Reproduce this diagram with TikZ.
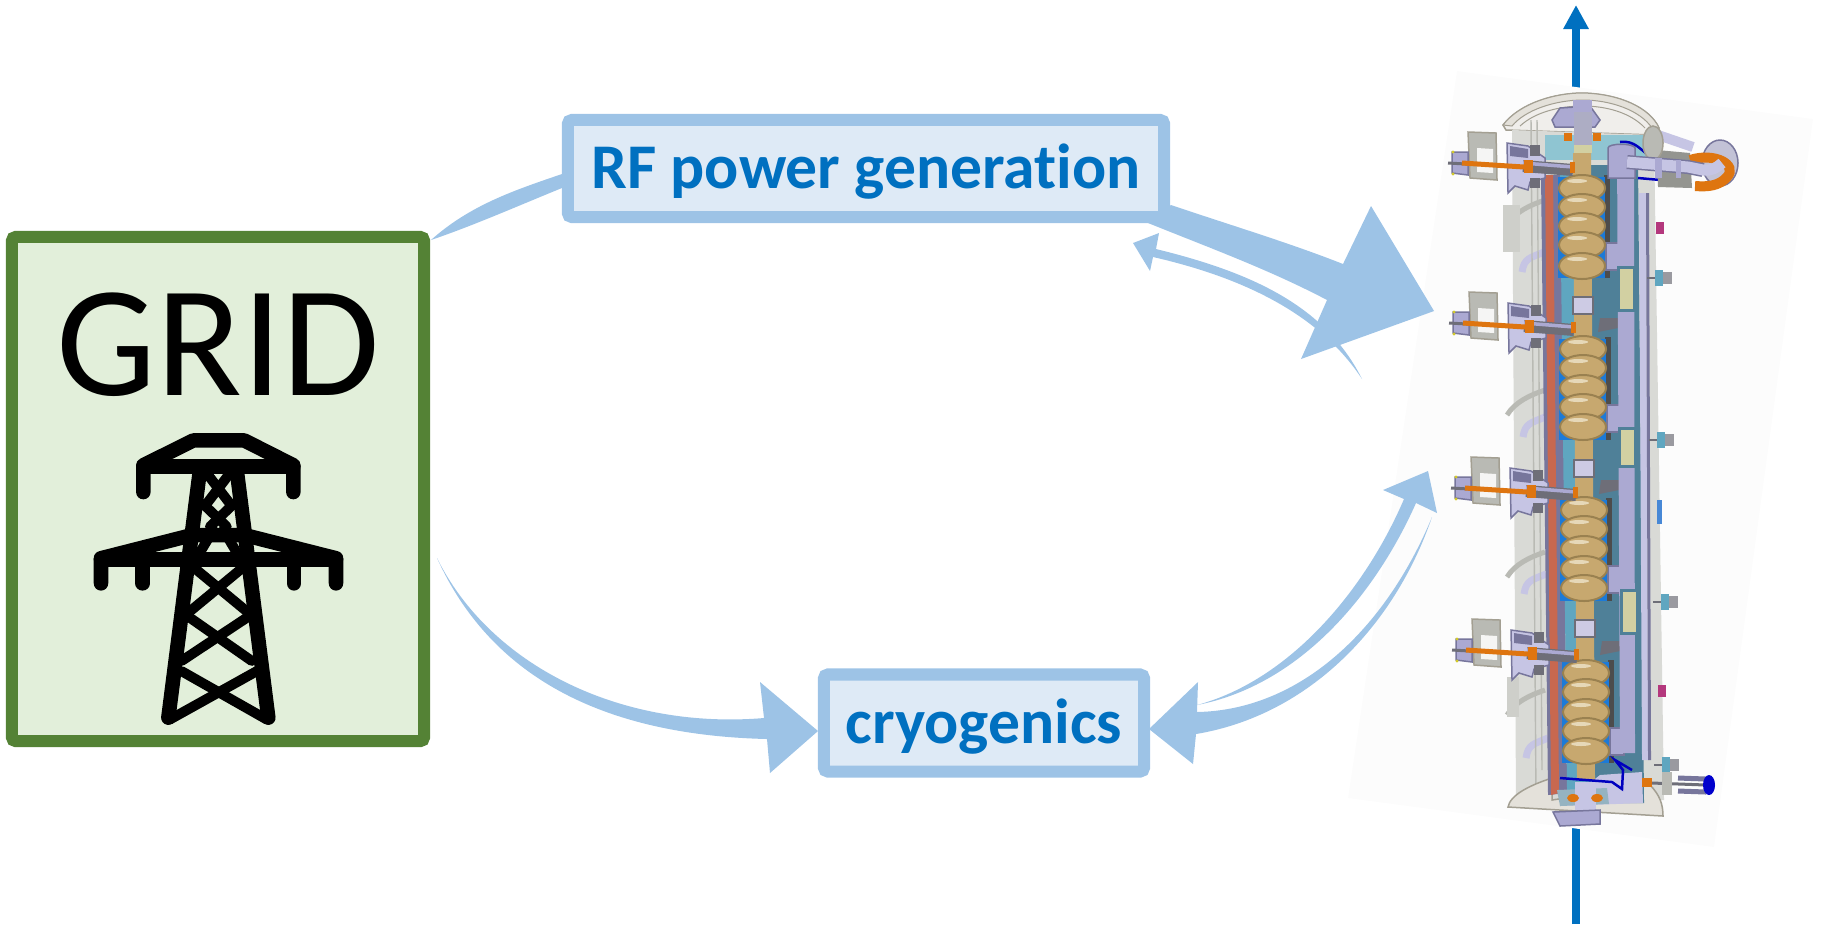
\documentclass[tikz,border=0pt]{standalone}
\usepackage{fontspec}
\setmainfont{Carlito}[Ligatures=NoCommon]
\usetikzlibrary{arrows.meta}

\definecolor{flowblue}{HTML}{9DC3E6}
\definecolor{boxblue}{HTML}{DEEAF6}
\definecolor{textblue}{HTML}{0070C0}
\definecolor{gridgreen}{HTML}{548235}
\definecolor{gridfill}{HTML}{E2EFDA}
\definecolor{imgback}{HTML}{FCFCFC}
\definecolor{vesselgrey}{HTML}{D9DAD6}
\definecolor{ringgrey}{HTML}{B9BAB4}
\definecolor{dishgrey}{HTML}{E4E1DA}
\definecolor{dishline}{HTML}{A39F92}
\definecolor{cavtan}{HTML}{C7A86F}
\definecolor{cavlight}{HTML}{E6D8B8}
\definecolor{cavdark}{HTML}{9A8150}
\definecolor{lav}{HTML}{ABA9D2}
\definecolor{lavlight}{HTML}{C6C5E4}
\definecolor{lavdark}{HTML}{77769C}
\definecolor{redstrip}{HTML}{C8684F}
\definecolor{heblue}{HTML}{1C7AD8}
\definecolor{tealdark}{HTML}{4F8098}
\definecolor{tealmid}{HTML}{5FA6C0}
\definecolor{teallight}{HTML}{8FC5D2}
\definecolor{orangecore}{HTML}{DE7510}
\definecolor{rodgrey}{HTML}{6E6E78}
\definecolor{paletan}{HTML}{D2D0A2}

\tikzset{
    flow/.style={fill=flowblue},
    bluebox/.style={draw=flowblue,fill=boxblue,line width=1.2mm,rounded corners=0.4mm,inner sep=0pt,
        text=textblue,font=\bfseries\fontsize{18.1}{20}\selectfont,text depth=0pt},
    gridbox/.style={draw=gridgreen,fill=gridfill,line width=1.2mm,rounded corners=0.4mm,inner sep=0pt},
    towerline/.style={line width=1.45mm,line cap=round,line join=round},
    towerbrace/.style={line width=1mm,line cap=round},
    cavity/.style={draw=cavdark,fill=cavtan,line width=0.2mm},
    port/.style={fill=lav,draw=lavdark,line width=0.15mm}
}

\begin{document}
\begin{tikzpicture}[x=0.01cm,y=-0.01cm]
    \useasboundingbox (0,0) rectangle (1822,926);

    % beam, runs behind the module
    \coordinate (beamin) at (1576,924);
    \coordinate (beamout) at (1576,5);
    \draw [textblue,line width=0.8mm,-{Triangle[length=2.4mm,width=2.4mm]}] (beamin) -- (beamout);

    % module image background
    \fill [imgback] (1457,71) -- (1813,119) -- (1714,847) -- (1348,798) -- cycle;

    % boxes
    \node (grid) at (218,489) [gridbox,minimum width=4.12cm,minimum height=5.04cm] {};
    \node (gridlabel) at (218,395.5) [anchor=base,font=\fontsize{45}{48}\selectfont] {GRID};
    \node (rf) at (866,168.5) [bluebox,minimum width=5.96cm,minimum height=0.97cm,text height=0.39cm] {RF power generation};
    \node (cryo) at (984,723) [bluebox,minimum width=3.2cm,minimum height=0.97cm,text height=0.40cm] {cryogenics};

    % ends of the flows
    \coordinate (gridup) at (431,240);
    \coordinate (griddown) at (437,558);
    \coordinate (rfback) at (1133,243);
    \coordinate (modin) at (1434,311);
    \coordinate (modback) at (1362,379);
    \coordinate (cryoin) at (818,731);
    \coordinate (cryoback) at (1149,729);
    \coordinate (modcold) at (1432,517);
    \coordinate (cryoout) at (1197,705);
    \coordinate (coldtip) at (1428,471);

    % grid to rf
    \fill [flow] (gridup) .. controls (470,205) and (515,190) .. (562,174) -- (562,188) .. controls (520,205) and (475,225) .. (gridup);
    % module back to rf
    \fill [flow] (modback) .. controls (1325,305) and (1250,272) .. (1156,249) -- (1159,233) -- (rfback) -- (1150,271) -- (1153,257) .. controls (1245,278) and (1320,315) .. (modback);
    % rf to module
    \fill [flow] (1171,205) .. controls (1230,225) and (1290,243) .. (1343,264) -- (1371,206) -- (modin) -- (1301,359) -- (1327,300) .. controls (1270,270) and (1210,248) .. (1148,223) -- cycle;
    % grid to cryogenics
    \fill [flow] (griddown) .. controls (490,665) and (620,730) .. (764,718) -- (760,682) -- (cryoin) -- (770,773) -- (767,739) .. controls (600,735) and (490,675) .. (griddown);
    % cryogenics to module
    \fill [flow] (cryoout) .. controls (1290,680) and (1365,590) .. (1404,499) -- (1383,490) -- (coldtip) -- (1437,513) -- (1416,503) .. controls (1375,595) and (1300,685) .. (cryoout);
    % module to cryogenics
    \fill [flow] (modcold) .. controls (1385,630) and (1300,710) .. (1197,712) -- (1198,682) -- (cryoback) -- (1193,764) -- (1196,734) .. controls (1310,715) and (1395,625) .. (modcold);

    % pylon
    \begin{scope}[shift={(0,220)},xscale=1/3,yscale=0.3444]
        \draw [towerline] (505,1445) -- (600,725);
        \draw [towerline] (805,1445) -- (710,725);
        \draw [towerline] (430,790) -- (430,712) -- (580,640) -- (733,640) -- (880,712) -- (880,790);
        \draw [towerline] (430,716) -- (880,716);
        \draw [towerline] (303,1055) -- (303,982) -- (575,915) -- (735,915) -- (1008,982) -- (1008,1055);
        \draw [towerline] (303,985) -- (1008,985);
        \draw [towerline] (428,985) -- (428,1055);
        \draw [towerline] (882,985) -- (882,1055);
        % |
        \draw [towerbrace] (620,735) -- (695,830);
        \draw [towerbrace] (690,735) -- (615,830);
        \draw [towerbrace] (610,825) -- (680,890);
        \draw [towerbrace] (700,825) -- (630,890);
        \draw [towerbrace] (640,900) -- (600,965);
        \draw [towerbrace] (670,900) -- (710,965);
        % x
        \draw [towerbrace] (570,1000) -- (745,1140);
        \draw [towerbrace] (740,1000) -- (565,1140);
        \draw [towerbrace] (570,1155) -- (755,1280);
        \draw [towerbrace] (740,1155) -- (545,1280);
        \draw [towerbrace] (545,1310) -- (800,1450);
        \draw [towerbrace] (770,1310) -- (510,1450);
    \end{scope}

    % module: dished top, vessel
    \filldraw [fill=dishgrey!55,draw=dishline,line width=0.15mm] (1503,125) .. controls (1520,103) and (1555,93) .. (1583,93) .. controls (1620,94) and (1650,108) .. (1659,128) -- (1654,135) -- (1506,130) -- cycle;
    \filldraw [fill=dishgrey,draw=dishline,line width=0.1mm] (1503,125) .. controls (1520,103) and (1555,93) .. (1583,93) .. controls (1620,94) and (1650,108) .. (1659,128) -- (1652,128) .. controls (1640,110) and (1610,100) .. (1583,100) .. controls (1555,100) and (1525,110) .. (1512,126) -- cycle;
    \draw [dishline,line width=0.1mm] (1520,126) .. controls (1535,112) and (1560,106) .. (1583,106) .. controls (1605,106) and (1630,112) .. (1645,128);
    \fill [vesselgrey] (1512,130) -- (1654,135) -- (1664,800) -- (1516,805) -- cycle;
    \foreach \ringy in {0,190,352,490}
        \draw [ringgrey,line width=0.5mm] (1507,{225+\ringy}) .. controls (1515,{212+\ringy}) and (1530,{205+\ringy}) .. (1545,{200+\ringy});
    \fill [ringgrey!70] (1503,205) rectangle (1520,252);
    \fill [ringgrey!70] (1507,677) rectangle (1519,717);
    \foreach \brackety/\bracketx in {0/0,165/1,322/2,486/4}
        \draw [lavlight,line width=0.7mm] ({1522+\bracketx},{272+\brackety}) .. controls ({1524+\bracketx},{258+\brackety}) and ({1530+\bracketx},{258+\brackety}) .. ({1544+\bracketx},{252+\brackety});
    \draw [ringgrey,thin] (1531,120) -- (1536,800);
    \draw [ringgrey,thin] (1537,120) -- (1542,770);
    % dished bottom
    \filldraw [fill=dishgrey,draw=dishline,line width=0.15mm] (1508,807) .. controls (1510,795) and (1530,785) .. (1552,778) -- (1552,800) -- (1650,785) .. controls (1660,795) and (1663,805) .. (1663,816) -- cycle;

    % module: inside
    \fill [lavdark] (1541,175) -- (1561,175) -- (1567,793) -- (1548,795) -- cycle;
    \fill [redstrip] (1545,175) -- (1553,175) -- (1559,793) -- (1551,795) -- cycle;
    \fill [teallight] (1545,135) -- (1647,135) -- (1647,160) -- (1545,160) -- cycle;
    \fill [tealdark] (1590,165) -- (1638,165) -- (1644,803) -- (1595,803) -- cycle;
    \fill [tealmid] (1560,175) -- (1590,175) -- (1595,790) -- (1567,790) -- cycle;
    \fill [lavlight] (1600,775) -- (1642,772) -- (1643,803) -- (1560,806) -- cycle;
    % bottom plate
    \fill [tealdark!60] (1557,790) -- (1607,788) -- (1609,804) -- (1560,806) -- cycle;
    % cavity groups
    \foreach \groupy/\groupx in {0/0,162/1,323/2,485/4} {
        \fill [black!70] ({1604+\groupx},{175+\groupy}) rectangle ({1610+\groupx},{278+\groupy});
        \fill [heblue] ({1558+\groupx},{177+\groupy}) rectangle ({1605+\groupx},{278+\groupy});
        \filldraw [port] ({1606+\groupx},{243+\groupy}) rectangle ({1620+\groupx},{270+\groupy});
    }
    \foreach \bracey/\bracex in {0/0,162/1,323/2}
        \fill [rodgrey] ({1600+\bracex},{318+\bracey}) -- ({1618+\bracex},{318+\bracey}) -- ({1618+\bracex},{328+\bracey}) -- ({1598+\bracex},{332+\bracey}) -- cycle;
    % pipes on the right
    \fill [lav] (1617,150) -- (1634,150) -- (1635,753) -- (1620,753) -- cycle;
    \fill [lavlight] (1639,193) -- (1646,193) -- (1648,760) -- (1642,760) -- cycle;
    \fill [lavdark] (1646,193) -- (1649,193) -- (1651,760) -- (1648,760) -- cycle;
    \foreach \sleevey/\sleevex/\sleevelen in {267/0/43,428/1/38,590/3/43}
        \filldraw [fill=paletan,draw=tealdark,line width=0.3mm] ({1618+\sleevex},\sleevey) rectangle ({1634+\sleevex},{\sleevey+\sleevelen});
    \filldraw [port] (1608,148) .. controls (1608,143) and (1634,143) .. (1635,148) -- (1635,178) -- (1608,178) -- cycle;
    % beam pipe
    \fill [cavtan] (1573,153) -- (1591,153) -- (1595,780) -- (1577,780) -- cycle;
    \foreach \cavy/\cavx in {188/1582,207/1582,226/1582,245/1582,266/1582,349/1583,368/1583,388/1583,407/1583,427/1583,510/1584,529/1584,549/1584,569/1584,588/1584,673/1586,692/1586,712/1586,731/1586,751/1586} {
        \filldraw [cavity] (\cavx,\cavy) ellipse [x radius=23,y radius=13];
        \fill [cavlight] (\cavx-5,\cavy-7) ellipse [x radius=10,y radius=2];
    }
    % bellows
    \foreach \bellowy/\bellowx in {297/1583,460/1584,620/1585} {
        \filldraw [fill=lav!60,draw=rodgrey,line width=0.2mm] (\bellowx-10,\bellowy) rectangle (\bellowx+10,\bellowy+17);
    }
    \fill [lavlight] (1575,782) rectangle (1596,810);
    \filldraw [port] (1553,812) -- (1600,810) -- (1600,824) -- (1560,826) -- cycle;
    \filldraw [port] (1552,120) -- (1560,108) -- (1590,106) -- (1600,120) -- (1595,127) -- (1555,127) -- cycle;
    \fill [lavdark!60] (1574,112) rectangle (1592,145);
    \fill [paletan] (1574,145) rectangle (1592,153);
    \fill [lav] (1573,100) rectangle (1592,112);
    \fill [orangecore] (1564,133) rectangle (1572,141);
    \fill [orangecore] (1593,133) rectangle (1601,141);
    \fill [orangecore] (1573,798) ellipse [x radius=6,y radius=4];
    \fill [orangecore] (1597,798) ellipse [x radius=6,y radius=4];

    % couplers
    \foreach \ypos/\xpos in {0/0,160/1,325/3,487/4} {
        \begin{scope}[shift={(\xpos,\ypos)}]
            \filldraw [fill=ringgrey,draw=dishline,line width=0.15mm] (1468,132) -- (1496,133) -- (1497,180) -- (1470,178) -- cycle;
            \fill [white!85!ringgrey] (1477,148) -- (1493,149) -- (1493,173) -- (1477,172) -- cycle;
            \filldraw [fill=lavlight,draw=lavdark,line width=0.15mm] (1507,143) -- (1528,146) -- (1545,158) -- (1545,178) -- (1530,182) -- (1528,190) -- (1515,186) -- (1508,193) -- cycle;
            \fill [lavdark] (1510,146) -- (1528,149) -- (1528,158) -- (1510,156) -- cycle;
            \fill [rodgrey] (1530,145) rectangle (1540,156);
            \fill [rodgrey] (1530,178) rectangle (1540,188);
            \filldraw [port] (1452,152) -- (1468,152) -- (1468,175) -- (1452,173) -- cycle;
            \fill [yellow!80!black] (1453,152) circle [radius=1.6];
            \fill [yellow!80!black] (1453,174) circle [radius=1.6];
            \draw [rodgrey,line width=0.3mm] (1448,163) -- (1466,164);
            \draw [rodgrey,line width=1.2mm] (1523,166) -- (1573,170);
            \draw [lav,line width=0.35mm] (1523,163) -- (1573,167);
            \draw [orangecore,line width=0.5mm] (1462,163) -- (1524,167);
            \fill [orangecore] (1524,160) rectangle (1533,173);
            \fill [orangecore] (1570,162) rectangle (1575,173);
        \end{scope}
    }

    % ports on the right
    \foreach \porty/\portx in {278/1655,440/1657,602/1661,765/1662} {
        \draw [rodgrey,line width=0.2mm] (\portx-8,\porty) -- (\portx,\porty);
        \fill [rodgrey!70] (\portx+7,\porty-6) rectangle (\portx+17,\porty+6);
        \fill [tealmid] (\portx,\porty-8) rectangle (\portx+8,\porty+8);
    }
    \fill [heblue!70!lav] (1657,500) rectangle (1662,524);
    \fill [magenta!70!black] (1656,222) rectangle (1664,234);
    \fill [magenta!70!black] (1658,685) rectangle (1666,697);

    % valve at the bottom
    \fill [orangecore] (1642,778) rectangle (1652,787);
    \draw [rodgrey,line width=0.3mm] (1652,783) -- (1706,785);
    \fill [ringgrey] (1662,772) rectangle (1672,795);
    \draw [lavdark,line width=0.5mm] (1678,778) -- (1706,779);
    \draw [lavdark,line width=0.5mm] (1678,791) -- (1706,792);
    \fill [blue!80!black] (1709,785) ellipse [x radius=6,y radius=10];

    % wires
    \draw [blue!75!black,line width=0.25mm] (1560,778) -- (1612,782) -- (1622,789) -- (1623,770) -- (1615,760) -- (1632,770);
    \draw [blue!75!black,line width=0.25mm] (1620,142) .. controls (1635,140) and (1640,150) .. (1650,156);
    \draw [blue!75!black,line width=0.25mm] (1638,178) -- (1672,181);

    % return pipe at the top
    \filldraw [fill=lavlight!70!ringgrey,draw=lavdark,line width=0.15mm] (1720,163) ellipse [x radius=18,y radius=23];
    \draw [lavlight,line width=1mm] (1658,135) -- (1693,147);
    \fill [ringgrey!80!black] (1657,150) -- (1690,153) -- (1692,188) -- (1658,187) -- cycle;
    \filldraw [fill=ringgrey,draw=dishline,line width=0.15mm] (1653,143) ellipse [x radius=10,y radius=17];
    \draw [orangecore,line width=1mm] (1690,160) .. controls (1715,152) and (1738,165) .. (1727,177) .. controls (1719,186) and (1708,187) .. (1695,186);
    \draw [lavdark,line width=1.4mm] (1627,162) -- (1688,167) -- (1703,170);
    \draw [lavlight,line width=1.1mm] (1627,162) -- (1688,167) -- (1703,170) .. controls (1712,171) and (1716,168) .. (1722,163);
    \fill [lav] (1655,158) -- (1662,158) -- (1662,178) -- (1655,178) -- cycle;
    \fill [lav] (1676,160) -- (1681,160) -- (1681,178) -- (1676,178) -- cycle;
\end{tikzpicture}
\end{document}
